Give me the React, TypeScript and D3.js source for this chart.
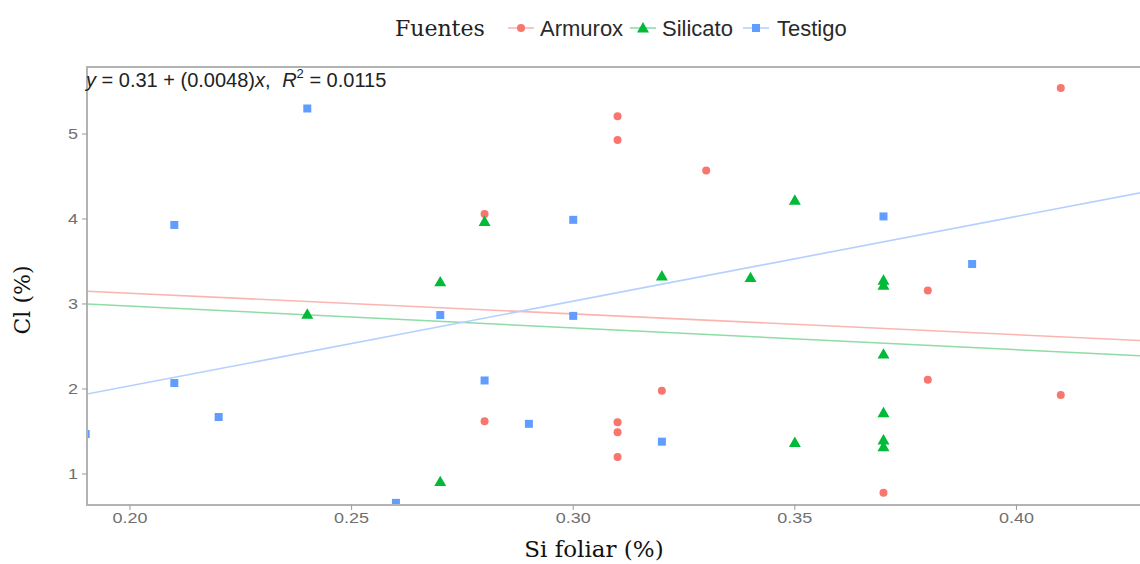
import * as d3 from 'd3';

// Si foliar (%) vs Cl (%), by fuente
const armuroxX = [0.31, 0.31, 0.33, 0.28, 0.32, 0.28, 0.31, 0.31, 0.31, 0.41, 0.38, 0.38, 0.41, 0.37];
const armuroxY = [5.21, 4.93, 4.57, 4.06, 1.98, 1.62, 1.61, 1.49, 1.20, 5.54, 3.16, 2.11, 1.93, 0.78];

const silicatoX = [0.24, 0.27, 0.27, 0.28, 0.32, 0.34, 0.35, 0.35, 0.37, 0.37, 0.37, 0.37, 0.37, 0.37];
const silicatoY = [2.88, 3.26, 0.91, 3.97, 3.33, 3.31, 4.22, 1.37, 3.28, 3.22, 2.41, 1.72, 1.40, 1.32];

const testigoX = [0.24, 0.21, 0.21, 0.22, 0.19, 0.26, 0.27, 0.30, 0.30, 0.28, 0.29, 0.32, 0.37, 0.39];
const testigoY = [5.30, 3.93, 2.07, 1.67, 1.47, 0.66, 2.87, 3.99, 2.86, 2.10, 1.59, 1.38, 4.03, 3.47];

// fitted lines, value at the left and right edge of the panel
const fuentes = ['Armurox', 'Silicato', 'Testigo'];
const trendStart = [3.15, 3.0, 1.94];
const trendEnd = [2.57, 2.39, 4.31];

const xTicks = [0.2, 0.25, 0.3, 0.35, 0.4];
const yTicks = [1, 2, 3, 4, 5];

const colors = ['#F8766D', '#00BA38', '#619CFF'];
const lineColors = ['#FBB5B0', '#8FDCA6', '#B5D0FF'];

const W = 1140;
const H = 564;
const panel = { left: 87, right: 1141, top: 67, bottom: 505 };

const x = d3.scaleLinear().domain([0.1903, 0.4281]).range([panel.left, panel.right]);
const y = d3.scaleLinear().domain([0.635, 5.788]).range([panel.bottom, panel.top]);

const series = [
  { xs: armuroxX, ys: armuroxY },
  { xs: silicatoX, ys: silicatoY },
  { xs: testigoX, ys: testigoY },
];

const sans = '"Liberation Sans", Arial, sans-serif';
const serif = '"DejaVu Serif", serif';

function Marker({ kind, cx, cy }: { kind: number; cx: number; cy: number }) {
  if (kind === 0) return <circle cx={cx} cy={cy} r={4} fill={colors[0]} />;
  if (kind === 1) {
    const p = d3.symbol().type(d3.symbolTriangle).size(62)();
    return <path d={p || ''} transform={`translate(${cx},${cy + 1})`} fill={colors[1]} />;
  }
  return <rect x={cx - 4} y={cy - 4} width={8} height={8} fill={colors[2]} />;
}

export default function App() {
  const line = d3.line<[number, number]>().x(d => x(d[0])).y(d => y(d[1]));
  const [x0, x1] = x.domain();
  const legendKeys = [508, 630, 743];
  const legendText = [540, 662, 777];

  return (
    <svg width={W} height={H} style={{ position: 'fixed', left: 0, top: 0, background: '#fff' }}>
      <defs>
        <clipPath id="panel">
          <rect x={panel.left} y={panel.top} width={panel.right - panel.left} height={panel.bottom - panel.top} />
        </clipPath>
      </defs>

      {/* legend */}
      <text x={395} y={36} fontFamily={serif} fontSize={22} fill="#222">Fuentes</text>
      {fuentes.map((f, i) => (
        <g key={f}>
          <line x1={legendKeys[i]} x2={legendKeys[i] + 26} y1={28} y2={28} stroke={lineColors[i]} strokeWidth={1.6} />
          <Marker kind={i} cx={legendKeys[i] + 13} cy={28} />
          <text x={legendText[i]} y={36} fontFamily={sans} fontSize={22} fill="#2a2a2a">{f}</text>
        </g>
      ))}

      {/* panel */}
      <g clipPath="url(#panel)">
        {series.map((s, i) => (
          <path key={'t' + i} d={line([[x0, trendStart[i]], [x1, trendEnd[i]]]) || ''}
            stroke={lineColors[i]} strokeWidth={1.6} fill="none" />
        ))}
        {series.map((s, i) => s.xs.map((v, j) => (
          <Marker key={i + '-' + j} kind={i} cx={x(v)} cy={y(s.ys[j])} />
        )))}
      </g>
      <rect x={panel.left} y={panel.top} width={panel.right - panel.left} height={panel.bottom - panel.top}
        fill="none" stroke="#b3b3b3" strokeWidth={2} />

      {/* y axis */}
      {yTicks.map(t => (
        <g key={'y' + t}>
          <line x1={panel.left - 5} x2={panel.left} y1={y(t)} y2={y(t)} stroke="#999" strokeWidth={1} />
          <text x={panel.left - 9} y={y(t)} dy="0.36em" textAnchor="end" fontFamily={sans} fontSize={15}
            textLength={10} lengthAdjust="spacingAndGlyphs" fill="#707070">{t}</text>
        </g>
      ))}

      {/* x axis */}
      {xTicks.map(t => (
        <g key={'x' + t}>
          <line x1={x(t)} x2={x(t)} y1={panel.bottom} y2={panel.bottom + 5} stroke="#999" strokeWidth={1} />
          <text x={x(t)} y={panel.bottom + 18} textAnchor="middle" fontFamily={sans} fontSize={15}
            textLength={35} lengthAdjust="spacingAndGlyphs" fill="#707070">{d3.format('.2f')(t)}</text>
        </g>
      ))}

      {/* equation */}
      <text x={86} y={87} fontFamily={sans} fontSize={20} fill="#222">
        <tspan fontStyle="italic">y</tspan>
        <tspan> = 0.31 + (0.0048)</tspan>
        <tspan fontStyle="italic">x</tspan>
        <tspan>,  </tspan>
        <tspan fontStyle="italic" dx={6}>R</tspan>
        <tspan fontSize={13} dy={-9}>2</tspan>
        <tspan dy={9}> = 0.0115</tspan>
      </text>

      {/* axis titles */}
      <text x={(panel.left + panel.right) / 2 - 20} y={557} textAnchor="middle" fontFamily={serif} fontSize={23} fill="#111">Si foliar (%)</text>
      <text transform={`translate(30,${(panel.top + panel.bottom) / 2 + 14}) rotate(-90)`} textAnchor="middle"
        fontFamily={serif} fontSize={22} fill="#111">Cl (%)</text>
    </svg>
  );
}
